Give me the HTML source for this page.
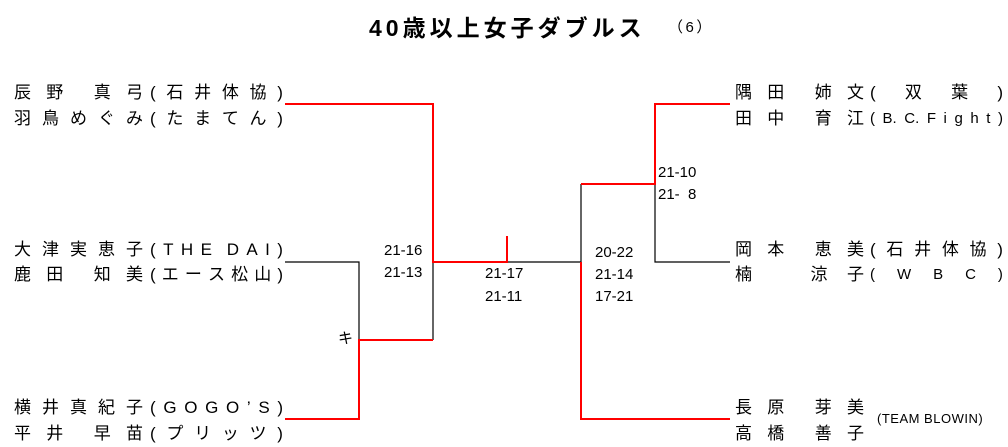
<!DOCTYPE html>
<html><head><meta charset="utf-8"><style>
html,body{margin:0;padding:0;background:#fff;}
body{width:1008px;height:447px;position:relative;overflow:hidden;font-family:"Liberation Sans","Noto Sans CJK JP",sans-serif;color:#000;}
.r{position:absolute;display:flex;justify-content:space-between;font-size:17px;line-height:20px;height:20px;}
.r span{display:inline-block;}
.s{position:absolute;font-size:15px;line-height:18px;}
svg{position:absolute;left:0;top:0;}
</style></head><body>
<svg width="1008" height="447">
<g stroke="#000" stroke-width="1.2" fill="none">
<path d="M285 262H359V340"/>
<path d="M433 262V340"/>
<path d="M507 262H581V184"/>
<path d="M655 184V262H730"/>
</g>
<g stroke="#ff0000" stroke-width="2" fill="none">
<path d="M285 104H433V262H507V236"/>
<path d="M285 419H359V340H433"/>
<path d="M730 419H581V262"/>
<path d="M581 184H655V104H730"/>
</g>
</svg>
<div style="position:absolute;left:369px;top:13px;font-size:23px;font-weight:bold;line-height:30px;white-space:nowrap;letter-spacing:4px;">40歳以上女子ダブルス</div>
<div style="position:absolute;left:668px;top:18px;font-size:15px;line-height:20px;white-space:nowrap;">（&#8198;6&#8198;）</div>

<!-- left -->
<div class="r" style="left:14px;top:83px;width:129px"><span>辰</span><span>野</span><span></span><span>真</span><span>弓</span></div>
<div class="r" style="left:150px;top:83px;width:133px"><span>(</span><span>石</span><span>井</span><span>体</span><span>協</span><span>)</span></div>
<div class="r" style="left:14px;top:109px;width:129px"><span>羽</span><span>鳥</span><span>め</span><span>ぐ</span><span>み</span></div>
<div class="r" style="left:150px;top:109px;width:133px"><span>(</span><span>た</span><span>ま</span><span>て</span><span>ん</span><span>)</span></div>

<div class="r" style="left:14px;top:240px;width:129px"><span>大</span><span>津</span><span>実</span><span>恵</span><span>子</span></div>
<div class="r" style="left:150px;top:240px;width:133px"><span>(</span><span>T</span><span>H</span><span>E</span><span></span><span>D</span><span>A</span><span>I</span><span>)</span></div>
<div class="r" style="left:14px;top:265px;width:129px"><span>鹿</span><span>田</span><span></span><span>知</span><span>美</span></div>
<div class="r" style="left:150px;top:265px;width:133px"><span>(</span><span>エ</span><span>ー</span><span>ス</span><span>松</span><span>山</span><span>)</span></div>

<div class="r" style="left:14px;top:398px;width:129px"><span>横</span><span>井</span><span>真</span><span>紀</span><span>子</span></div>
<div class="r" style="left:150px;top:398px;width:133px"><span>(</span><span>G</span><span>O</span><span>G</span><span>O</span><span>’</span><span>S</span><span>)</span></div>
<div class="r" style="left:14px;top:424px;width:129px"><span>平</span><span>井</span><span></span><span>早</span><span>苗</span></div>
<div class="r" style="left:150px;top:424px;width:133px"><span>(</span><span>プ</span><span>リ</span><span>ッ</span><span>ツ</span><span>)</span></div>

<!-- right -->
<div class="r" style="left:735px;top:83px;width:129px"><span>隅</span><span>田</span><span></span><span>姉</span><span>文</span></div>
<div class="r" style="left:870px;top:83px;width:133px"><span>(</span><span></span><span>双</span><span></span><span>葉</span><span></span><span>)</span></div>
<div class="r" style="left:735px;top:109px;width:129px"><span>田</span><span>中</span><span></span><span>育</span><span>江</span></div>
<div class="r" style="left:870px;top:109px;width:133px;font-size:15px"><span>(</span><span>B.</span><span>C.</span><span>F</span><span>i</span><span>g</span><span>h</span><span>t</span><span>)</span></div>

<div class="r" style="left:735px;top:240px;width:129px"><span>岡</span><span>本</span><span></span><span>恵</span><span>美</span></div>
<div class="r" style="left:870px;top:240px;width:133px"><span>(</span><span>石</span><span>井</span><span>体</span><span>協</span><span>)</span></div>
<div class="r" style="left:735px;top:265px;width:129px"><span>楠</span><span></span><span></span><span>涼</span><span>子</span></div>
<div class="r" style="left:870px;top:265px;width:133px;font-size:15px"><span>(</span><span></span><span>W</span><span></span><span>B</span><span></span><span>C</span><span></span><span>)</span></div>

<div class="r" style="left:735px;top:398px;width:129px"><span>長</span><span>原</span><span></span><span>芽</span><span>美</span></div>
<div class="r" style="left:735px;top:424px;width:129px"><span>高</span><span>橋</span><span></span><span>善</span><span>子</span></div>
<div style="position:absolute;left:877px;top:411px;font-size:13px;line-height:16px;letter-spacing:0.5px;white-space:nowrap;">(TEAM BLOWIN)</div>

<!-- scores -->
<div class="s" style="left:384px;top:242px">21-16</div>
<div class="s" style="left:384px;top:264px">21-13</div>
<div class="s" style="left:485px;top:265px">21-17</div>
<div class="s" style="left:485px;top:288px">21-11</div>
<div class="s" style="left:595px;top:244px">20-22</div>
<div class="s" style="left:595px;top:266px">21-14</div>
<div class="s" style="left:595px;top:288px">17-21</div>
<div class="s" style="left:658px;top:164px">21-10</div>
<div class="s" style="left:658px;top:186px">21-&nbsp;&nbsp;8</div>
<div class="s" style="left:338px;top:330px">キ</div>
</body></html>
